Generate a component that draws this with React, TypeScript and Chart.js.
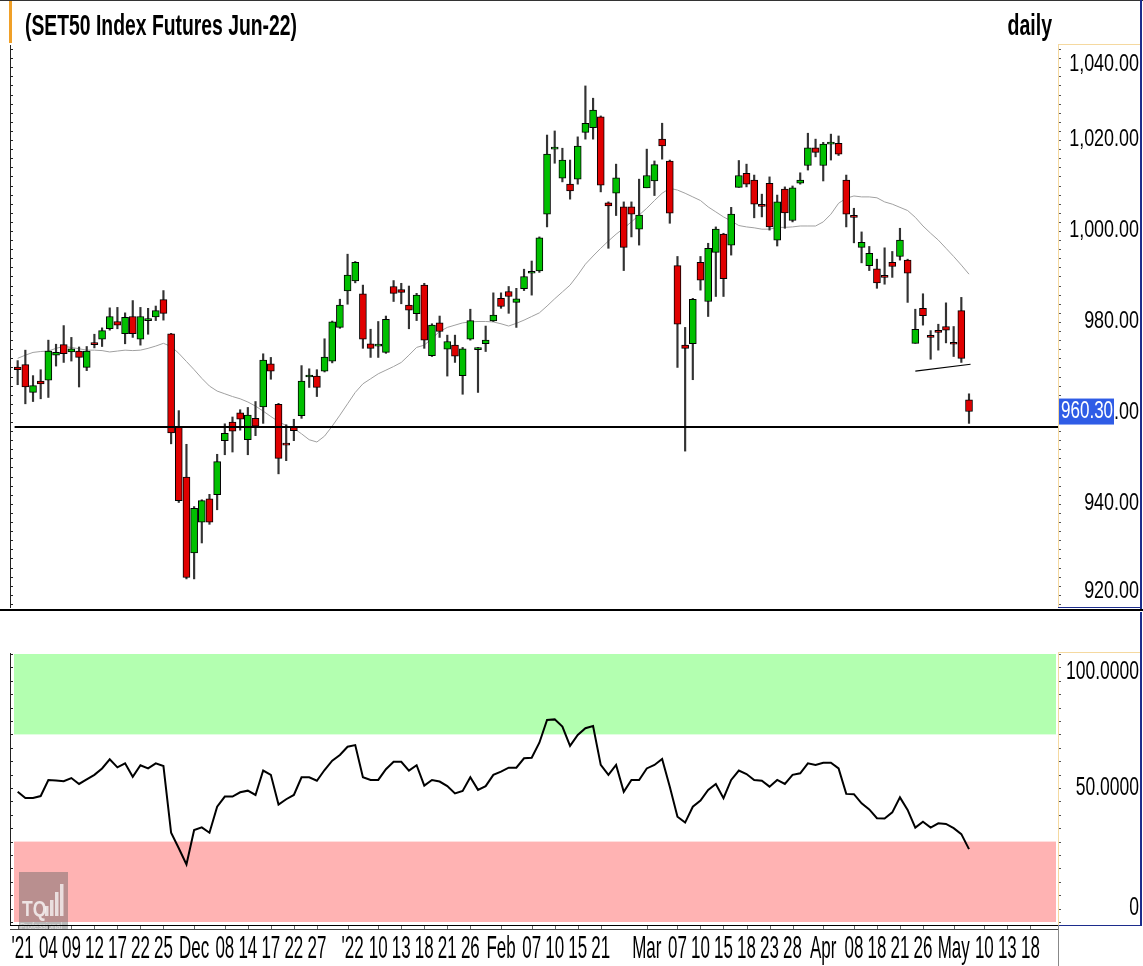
import React, { useEffect, useRef } from "react";
import { Chart, registerables } from "chart.js";

Chart.register(...registerables);

const W = 1143;
const PRICE_H = 612;
const RSI_H = 354;
const FF = '"Liberation Sans", Arial, Helvetica, sans-serif';

const titleText = "(SET50 Index Futures Jun-22)";
const periodText = "daily";

const tickIndex = [0, 4, 7, 10, 13, 16, 19, 23, 27, 30, 33, 36, 39, 43, 47, 50, 53, 56, 59, 63, 67, 70, 73, 76, 82, 86, 89, 92, 95, 98, 101, 105, 109, 112, 115, 118, 122, 126, 129, 132];
const tickLabels = ["'21", "04", "09", "12", "17", "22", "25", "Dec", "08", "14", "17", "22", "27", "'22", "10", "13", "18", "21", "26", "Feb", "07", "10", "15", "21", "Mar", "07", "10", "15", "18", "23", "28", "Apr", "08", "18", "21", "26", "May", "10", "13", "18"];

const opens = [
  970.1, 970.6, 964.5, 967.0, 967.2, 972.7, 975.0, 973.4, 973.6, 970.0,
  975.3, 976.2, 978.5, 980.1, 977.4, 981.2, 976.2, 980.3, 981.1, 984.9,
  977.4, 957.0, 945.9, 929.2, 936.0, 941.1, 942.0, 953.9, 958.0, 960.0,
  954.1, 958.8, 961.3, 970.8, 961.9, 953.2, 956.9, 959.4, 967.9, 968.1,
  969.2, 971.4, 978.8, 986.8, 989.0, 986.2, 975.2, 974.7, 973.3, 987.8,
  987.1, 983.7, 981.8, 988.1, 972.6, 979.8, 974.0, 974.9, 968.2, 976.2,
  973.9, 975.2, 980.2, 985.2, 986.7, 984.3, 987.3, 990.7, 991.2, 1003.7,
  1018.0, 1011.6, 1010.3, 1011.4, 1021.7, 1022.7, 1025.1, 1006.2, 1008.3, 1005.3,
  1005.3, 1000.4, 1009.5, 1011.0, 1020.2, 1015.4, 992.4, 974.9, 975.2, 993.1,
  984.5, 995.3, 999.3, 996.9, 1009.6, 1012.7, 1011.2, 1005.7, 1010.5, 998.0,
  1009.2, 1002.3, 1010.5, 1014.4, 1018.3, 1014.4, 1019.1, 1019.3, 1011.2, 1003.2,
  996.4, 992.4, 991.7, 990.0, 993.1, 994.4, 993.6, 975.3, 983.0, 976.8,
  978.0, 979.0, 975.4, 982.5, 962.9,
];
const highs = [
  971.5, 973.8, 968.2, 969.5, 976.0, 975.1, 979.2, 976.6, 974.5, 974.6,
  977.3, 978.7, 983.1, 983.2, 982.0, 984.7, 983.2, 983.0, 983.5, 986.9,
  977.5, 960.5, 953.1, 939.4, 940.9, 942.1, 950.9, 957.6, 959.1, 960.7,
  961.2, 962.5, 973.0, 972.2, 962.1, 957.4, 958.6, 970.4, 969.7, 969.5,
  976.3, 980.2, 985.0, 994.9, 993.3, 988.1, 978.4, 980.1, 981.3, 989.1,
  988.5, 987.9, 986.3, 988.5, 979.6, 981.3, 977.1, 977.1, 974.4, 982.8,
  974.4, 979.1, 986.4, 986.4, 987.8, 987.4, 991.6, 993.4, 998.7, 1021.1,
  1022.0, 1018.2, 1015.6, 1020.7, 1031.9, 1029.2, 1025.3, 1006.4, 1014.7, 1006.4,
  1006.4, 1011.4, 1018.0, 1015.4, 1023.7, 1015.6, 994.4, 978.8, 985.2, 994.4,
  997.3, 1000.9, 999.5, 1005.2, 1015.5, 1014.7, 1012.3, 1008.1, 1011.9, 1007.9,
  1009.7, 1009.9, 1012.8, 1021.5, 1020.2, 1019.5, 1021.3, 1020.9, 1012.3, 1005.0,
  999.8, 996.6, 993.8, 996.3, 995.5, 1000.6, 993.8, 982.8, 986.2, 978.1,
  979.5, 984.2, 979.0, 985.4, 964.2,
];
const lows = [
  966.2, 962.0, 962.5, 963.1, 963.4, 970.3, 971.1, 971.4, 965.7, 969.3,
  974.3, 974.6, 978.2, 978.5, 975.2, 976.6, 974.9, 977.3, 980.3, 980.4,
  953.2, 940.3, 923.5, 923.5, 931.4, 935.5, 938.7, 950.8, 951.4, 956.2,
  950.8, 955.0, 957.7, 967.4, 946.6, 949.5, 953.9, 958.8, 965.6, 963.6,
  969.0, 971.0, 978.6, 983.9, 988.6, 974.2, 972.2, 972.2, 973.1, 984.5,
  984.0, 978.5, 980.3, 974.2, 972.4, 976.6, 968.1, 971.1, 964.1, 976.0,
  964.5, 973.5, 980.1, 983.0, 981.9, 978.8, 986.9, 985.9, 990.9, 1000.9,
  1014.9, 1010.8, 1007.0, 1010.3, 1020.2, 1020.2, 1008.6, 996.2, 1003.4, 991.3,
  998.7, 996.9, 1009.5, 1007.8, 1015.8, 1001.7, 970.0, 951.6, 967.3, 987.0,
  981.2, 985.6, 985.6, 994.7, 1009.6, 1009.7, 1002.9, 1003.1, 1000.2, 996.7,
  1000.6, 1002.0, 1010.3, 1013.4, 1016.3, 1011.0, 1015.6, 1016.6, 1000.9, 997.4,
  993.0, 991.3, 987.4, 988.3, 989.8, 993.6, 984.3, 975.3, 979.3, 971.8,
  973.8, 975.4, 972.4, 971.1, 957.7,
];
const closes = [
  969.5, 965.7, 966.0, 966.4, 973.6, 973.3, 973.0, 974.1, 972.2, 973.6,
  975.0, 978.1, 981.2, 979.3, 981.0, 977.4, 981.2, 980.5, 982.5, 981.9,
  955.6, 940.7, 923.8, 939.0, 940.7, 936.0, 949.3, 955.5, 956.0, 958.6,
  959.5, 957.1, 971.6, 969.2, 950.0, 952.9, 956.1, 967.0, 968.1, 965.6,
  972.3, 980.0, 983.7, 990.3, 993.1, 976.2, 974.2, 974.9, 980.6, 986.3,
  986.5, 982.6, 985.9, 976.0, 979.3, 977.9, 975.7, 972.5, 974.1, 980.3,
  974.3, 976.0, 981.5, 983.4, 985.6, 985.1, 990.0, 991.0, 998.5, 1016.9,
  1018.3, 1015.6, 1008.8, 1018.7, 1023.7, 1026.6, 1010.1, 1005.5, 1011.7, 996.4,
  1003.7, 1003.5, 1012.2, 1014.6, 1018.7, 1003.9, 979.5, 974.2, 985.0, 989.2,
  996.2, 1000.4, 989.5, 1003.7, 1012.2, 1010.3, 1005.9, 1005.4, 1000.9, 1006.4,
  1004.0, 1009.5, 1011.2, 1018.3, 1017.3, 1019.1, 1019.3, 1016.9, 1003.7, 1003.0,
  997.5, 995.1, 988.6, 989.8, 992.2, 998.0, 990.7, 978.4, 981.4, 976.6,
  977.7, 978.2, 975.1, 972.0, 960.3,
];
const maValues = [
  972.0, 972.7, 973.3, 973.5, 973.6, 974.2, 974.6, 974.4, 974.1, 973.8,
  973.8, 973.7, 973.4, 973.6, 973.8, 973.7, 973.8, 974.2, 974.7, 975.3,
  974.6, 973.1, 971.3, 969.5, 967.6, 965.9, 964.8, 964.2, 963.6, 963.1,
  962.4, 961.5, 960.4, 959.2, 958.1, 957.2, 956.6, 955.4, 954.1, 953.6,
  954.9, 957.1, 959.5, 962.0, 964.5, 966.4, 967.5, 968.6, 969.4, 970.2,
  971.1, 972.7, 974.4, 974.9, 976.4, 977.9, 978.8, 979.3, 979.8, 980.0,
  980.1, 980.1, 980.0, 979.6, 979.1, 979.7, 980.4, 981.2, 982.0, 983.5,
  985.1, 986.6, 988.1, 990.3, 992.7, 994.5, 996.2, 997.8, 999.3, 1000.6,
  1002.0, 1003.5, 1005.0, 1006.7, 1008.3, 1009.4, 1009.0, 1008.3, 1007.5, 1006.7,
  1005.3, 1004.2, 1003.1, 1002.2, 1001.2, 1000.9, 1000.7, 1000.4, 1000.4, 1000.8,
  1000.8, 1000.9, 1001.1, 1001.1, 1001.1, 1002.0, 1003.7, 1006.1, 1007.2, 1007.7,
  1007.5, 1007.5, 1007.3, 1006.4, 1005.9, 1005.2, 1004.5, 1003.0, 1001.1, 999.5,
  998.0, 996.2, 994.4, 992.5, 990.5,
];
const rsiValues = [
  48.6, 46.3, 46.3, 47.0, 53.0, 52.8, 52.5, 53.7, 51.5, 53.2,
  54.9, 57.3, 60.7, 57.7, 59.2, 54.2, 58.5, 57.3, 59.2, 58.2,
  33.3, 27.5, 21.5, 34.3, 35.3, 33.3, 43.0, 46.8, 46.8, 48.4,
  49.0, 47.4, 56.5, 54.9, 43.8, 45.8, 47.4, 54.0, 54.0, 52.7,
  56.7, 60.2, 62.3, 65.4, 66.0, 54.0, 53.0, 53.0, 57.0, 59.8,
  59.8, 56.5, 58.5, 50.9, 53.0, 52.4, 50.7, 48.0, 48.9, 54.0,
  49.3, 50.7, 54.9, 56.1, 57.6, 57.6, 61.1, 61.3, 66.9, 75.4,
  75.6, 72.9, 65.7, 69.8, 72.3, 73.1, 58.6, 54.9, 58.6, 48.6,
  53.0, 53.0, 57.3, 58.6, 60.8, 50.5, 39.3, 37.1, 43.0, 45.3,
  49.3, 51.5, 46.2, 53.0, 56.5, 55.2, 53.0, 52.7, 50.5, 53.0,
  51.5, 54.9, 55.5, 59.2, 58.6, 59.4, 59.4, 57.3, 47.8, 47.7,
  44.3, 42.0, 38.7, 38.6, 40.9, 46.5, 41.8, 35.2, 37.4, 35.2,
  36.8, 36.6, 35.0, 32.8, 27.2,
];

const priceTicks = [920, 940, 960, 980, 1000, 1020, 1040];
const rsiTicks = [0, 50, 100];
const rsiTickLabels = ["0", "50.0000", "100.0000"];
const overbought = 70;
const oversold = 30;
const supportLevel = 956.9;
const supportRange = [-0.4, 135.6];
const trendX = [117, 124.2];
const trendY = [969.2, 970.7];
const lastPrice = 960.3;

const X_MIN = -1;
const X_MAX = 135.6;

function txt(ctx: any, s: string, x: number, y: number, font: string, sx: number, align: any, color: string, baseline: any = "alphabetic") {
  ctx.save();
  ctx.font = font;
  ctx.fillStyle = color;
  ctx.textAlign = align;
  ctx.textBaseline = baseline;
  ctx.translate(x, y);
  ctx.scale(sx, 1);
  ctx.fillText(s, 0, 0);
  ctx.restore();
}

function fmtPrice(v: number) {
  return v.toLocaleString("en-US", { minimumFractionDigits: 2, maximumFractionDigits: 2 });
}

const priceDeco = {
  id: "priceDeco",
  afterDraw(chart: any) {
    const { ctx, chartArea: ca } = chart;
    const ys = chart.scales.y;
    ctx.save();
    ctx.fillStyle = "#333";
    ctx.fillRect(0, 0, W, 1);
    ctx.fillStyle = "#f0a028";
    ctx.fillRect(9, 1, 3, 42);
    txt(ctx, titleText, 25, 35, `bold 30px ${FF}`, 0.645, "left", "#000");
    txt(ctx, periodText, 1052, 35, `bold 30px ${FF}`, 0.65, "right", "#000");
    // left axis
    ctx.fillStyle = "#222";
    ctx.fillRect(ca.left, ca.top, 1, ca.bottom - ca.top);
    for (let v = Math.ceil(ys.min / 2) * 2; v <= ys.max; v += 2) {
      const y = Math.round(ys.getPixelForValue(v));
      ctx.fillRect(ca.left + 1, y, 2, 1);
    }
    // axis column
    ctx.fillStyle = "#f5d9a0";
    ctx.fillRect(ca.right, ca.top - 1, W - ca.right - 2, 1);
    ctx.fillRect(ca.right, ca.top, 1, ca.bottom - ca.top);
    ctx.fillStyle = "#555";
    for (let v = Math.ceil(ys.min / 2) * 2; v <= ys.max; v += 2) {
      const y = Math.round(ys.getPixelForValue(v));
      ctx.fillRect(ca.right + 1, y, 2, 1);
    }
    ctx.fillStyle = "#1c2c8c";
    ctx.fillRect(W - 3, 0, 2, ca.bottom + 3);
    ctx.fillRect(ca.right, ca.bottom - 1, W - ca.right - 2, 1);
    // labels
    priceTicks.forEach((v) => {
      let y = ys.getPixelForValue(v);
      y = Math.max(ca.top + 20, Math.min(ca.bottom - 16, y));
      txt(ctx, fmtPrice(v), W - 4, y, `23px ${FF}`, 0.78, "right", "#000", "middle");
    });
    // last price box
    const yb = ys.getPixelForValue(lastPrice);
    ctx.fillStyle = "#2f5ce6";
    ctx.fillRect(ca.right + 1, yb - 13, 55, 26);
    txt(ctx, lastPrice.toFixed(2), ca.right + 3, yb, `23px ${FF}`, 0.74, "left", "#fff", "middle");
    // separator
    ctx.fillStyle = "#000";
    ctx.fillRect(0, ca.bottom + 1, W, 2);
    ctx.restore();
  },
};

const rsiDeco = {
  id: "rsiDeco",
  beforeDatasetsDraw(chart: any) {
    const { ctx, chartArea: ca } = chart;
    const ys = chart.scales.y;
    ctx.save();
    const x0 = ca.left + 4;
    const x1 = ca.right - 2;
    const g0 = ys.getPixelForValue(100);
    const g1 = ys.getPixelForValue(overbought);
    ctx.fillStyle = "#b3ffb0";
    ctx.fillRect(x0, g0, x1 - x0, g1 - g0);
    const r0 = ys.getPixelForValue(oversold);
    const r1 = ys.getPixelForValue(0);
    ctx.fillStyle = "#ffb3b3";
    ctx.fillRect(x0, r0, x1 - x0, r1 - r0);
    ctx.restore();
  },
  afterDraw(chart: any) {
    const { ctx, chartArea: ca } = chart;
    const ys = chart.scales.y;
    const xs = chart.scales.x;
    ctx.save();
    // left axis
    ctx.fillStyle = "#222";
    ctx.fillRect(ca.left, ca.top, 1, ca.bottom - ca.top);
    for (let v = 0; v <= 100; v += 5) {
      const y = Math.round(ys.getPixelForValue(v));
      ctx.fillRect(ca.left + 1, y, 2, 1);
    }
    // axis column
    ctx.fillStyle = "#f5d9a0";
    ctx.fillRect(ca.right, ca.top - 1, W - ca.right - 2, 1);
    ctx.fillRect(ca.right, ca.top, 1, ca.bottom - ca.top);
    ctx.fillStyle = "#555";
    for (let v = 0; v <= 100; v += 5) {
      const y = Math.round(ys.getPixelForValue(v));
      ctx.fillRect(ca.right + 1, y, 2, 1);
    }
    ctx.fillStyle = "#1c2c8c";
    ctx.fillRect(W - 3, 0, 2, ca.bottom + 1);
    ctx.fillRect(ca.right, ca.bottom, W - ca.right - 2, 1);
    rsiTicks.forEach((v, i) => {
      let y = ys.getPixelForValue(v);
      y = Math.max(ca.top + 19, Math.min(ca.bottom - 17, y));
      txt(ctx, rsiTickLabels[i], W - 4, y, `25px ${FF}`, 0.7, "right", "#000", "middle");
    });
    // logo
    ctx.fillStyle = "rgba(100,100,100,0.45)";
    ctx.fillRect(19, ca.bottom - 53, 49, 58);
    txt(ctx, "TQ", 22, ca.bottom - 9, `bold 22px ${FF}`, 0.8, "left", "rgba(255,255,255,0.75)");
    ctx.fillStyle = "rgba(255,255,255,0.7)";
    const bars = [10, 16, 24, 32];
    bars.forEach((h, i) => ctx.fillRect(45 + i * 5, ca.bottom - 9 - h, 3.5, h));
    txt(ctx, "Professional", 20, ca.bottom + 4, `9px ${FF}`, 0.85, "left", "rgba(230,230,230,0.9)");
    // x axis lines
    ctx.fillStyle = "#000";
    ctx.fillRect(ca.left, ca.bottom, ca.right - ca.left, 1);
    ctx.fillStyle = "#444";
    ctx.fillRect(ca.left, ca.bottom + 4, ca.right - ca.left, 1);
    ctx.fillStyle = "#888";
    ctx.fillRect(ca.right, ca.bottom, 1, chart.height - ca.bottom);
    // x ticks and labels
    tickIndex.forEach((ix, i) => {
      const x = xs.getPixelForValue(ix);
      ctx.fillStyle = "#666";
      ctx.fillRect(Math.round(x), ca.bottom + 1, 1, 3);
      const lab = tickLabels[i];
      const dx = lab.startsWith("'") ? 5 : 0;
      txt(ctx, lab, x + dx, ca.bottom + 33, `32px ${FF}`, 0.53, "center", "#000");
    });
    ctx.restore();
  },
};

export default function App() {
  const priceRef = useRef<HTMLCanvasElement>(null);
  const rsiRef = useRef<HTMLCanvasElement>(null);

  useEffect(() => {
    const bodies = opens.map((o, i) => ({ x: i, y: [o, closes[i]] }));
    const bodyColors = opens.map((o, i) => (closes[i] >= o ? "#00c000" : "#e00000"));
    const wicks = lows.map((l, i) => ({ x: i, y: [l, highs[i]] }));
    const maData = maValues.map((v, i) => ({ x: i, y: v }));
    const supportData = supportRange.map((x) => ({ x, y: supportLevel }));
    const trendData = trendX.map((x, i) => ({ x, y: trendY[i] }));
    const rsiData = rsiValues.map((v, i) => ({ x: i, y: v }));

    const c1 = new Chart(priceRef.current as HTMLCanvasElement, {
      type: "bar",
      data: {
        datasets: [
          { type: "line", data: supportData, borderColor: "#000", borderWidth: 2, pointRadius: 0, order: 0 } as any,
          { type: "line", data: trendData, borderColor: "#000", borderWidth: 1.2, pointRadius: 0, order: 0 } as any,
          {
            type: "bar",
            data: bodies,
            backgroundColor: bodyColors,
            borderColor: "#000",
            borderWidth: 1,
            borderSkipped: false,
            barThickness: 7,
            minBarLength: 2,
            grouped: false,
            order: 1,
          } as any,
          { type: "bar", data: wicks, backgroundColor: "#333", barThickness: 1.5, grouped: false, order: 2 } as any,
          { type: "line", data: maData, borderColor: "#a0a0a0", borderWidth: 1, pointRadius: 0, tension: 0, order: 3 } as any,
        ],
      },
      options: {
        responsive: false,
        animation: false,
        layout: { padding: { left: 10, top: 45, right: 0, bottom: 4 } },
        plugins: { legend: { display: false }, tooltip: { enabled: false } },
        scales: {
          x: { type: "linear", min: X_MIN, max: X_MAX, display: false, offset: false },
          y: {
            position: "right",
            min: 917.1,
            max: 1040.9,
            grid: { display: false },
            border: { display: false },
            ticks: { display: false },
            afterFit(s: any) {
              s.width = 85;
            },
          },
        },
      } as any,
      plugins: [priceDeco],
    });

    const c2 = new Chart(rsiRef.current as HTMLCanvasElement, {
      type: "line",
      data: {
        datasets: [{ data: rsiData, borderColor: "#000", borderWidth: 2, pointRadius: 0, tension: 0 }],
      },
      options: {
        responsive: false,
        animation: false,
        layout: { padding: { left: 10, top: 41, right: 0, bottom: 41 } },
        plugins: { legend: { display: false }, tooltip: { enabled: false } },
        scales: {
          x: { type: "linear", min: X_MIN, max: X_MAX, display: false, offset: false },
          y: {
            position: "right",
            min: -1.12,
            max: 100.37,
            grid: { display: false },
            border: { display: false },
            ticks: { display: false },
            afterFit(s: any) {
              s.width = 85;
            },
          },
        },
      } as any,
      plugins: [rsiDeco],
    });

    return () => {
      c1.destroy();
      c2.destroy();
    };
  }, []);

  return (
    <div style={{ position: "relative", width: W, height: 966, background: "#fff", overflow: "hidden" }}>
      <style>{`html,body{margin:0;padding:0;overflow:hidden;background:#fff}`}</style>
      <canvas ref={priceRef} width={W} height={PRICE_H} style={{ position: "absolute", left: 0, top: 0, width: W, height: PRICE_H }} />
      <canvas ref={rsiRef} width={W} height={RSI_H} style={{ position: "absolute", left: 0, top: PRICE_H, width: W, height: RSI_H }} />
    </div>
  );
}
